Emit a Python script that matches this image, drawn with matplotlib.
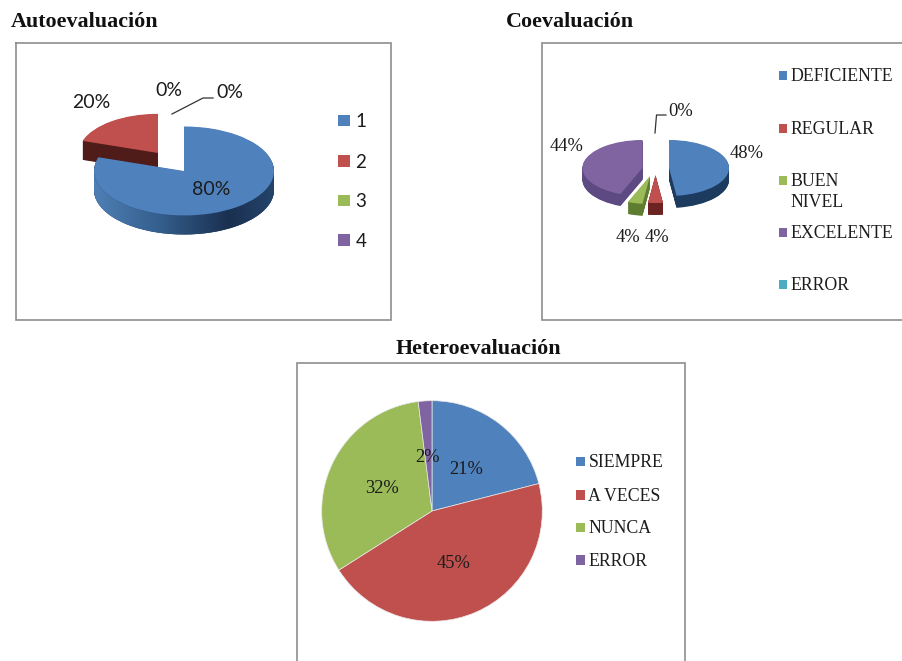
import numpy as np
import matplotlib
matplotlib.use("Agg")
import matplotlib.pyplot as plt
from matplotlib.patches import Wedge, Polygon, Rectangle
from matplotlib.colors import LinearSegmentedColormap

# ---- data ----
auto_values = [80, 20, 0, 0]
auto_categories = ["1", "2", "3", "4"]
co_values = [48, 4, 4, 44, 0]
co_categories = ["DEFICIENTE", "REGULAR", "BUEN\nNIVEL", "EXCELENTE", "ERROR"]
hetero_values = [21, 45, 32, 2]
hetero_categories = ["SIEMPRE", "A VECES", "NUNCA", "ERROR"]

# ---- style ----
W, H = 903, 661
BLUE, RED, GREEN, PURPLE, TEAL = "#4F81BD", "#C0504D", "#9BBB59", "#8064A2", "#4BACC6"
palette = [BLUE, RED, GREEN, PURPLE, TEAL]
sides = ["#1D3A5F", "#6B2422", "#5F7D30", "#5E4A82", "#2F7F95"]
TEXT = "#1c1c1c"
SERIF = "Liberation Serif"
SANS = "Lato"
DY = 1.2  # vertical nudge for text baseline centring

fig = plt.figure(figsize=(W / 100, H / 100), dpi=100, facecolor="white")


def pie_axes(cx, cy, rx, ry):
    ax = fig.add_axes([0, 0, 1, 1])
    ax.patch.set_alpha(0)
    return ax, (-cx / rx, (W - cx) / rx), ((cy - H) / ry, cy / ry)


def finish(ax, xl, yl):
    ax.set_aspect("auto")
    ax.set_xlim(*xl)
    ax.set_ylim(*yl)
    ax.axis("off")


def pie3d(values, cx, cy, rx, ry, depth, shifts, scales, order, sidecols, grad=None):
    ax, xl, yl = pie_axes(cx, cy, rx, ry)
    wedges, _ = ax.pie(values, colors=palette[:len(values)], startangle=90,
                       counterclock=False, radius=1,
                       wedgeprops=dict(linewidth=0))
    for i, w in enumerate(wedges):
        if values[i] == 0:
            w.set_visible(False)
            continue
        z = 2 + 2 * order[i]
        x0, y0 = shifts[i][0] / rx, -shifts[i][1] / ry
        r = scales[i]
        w.set_center((x0, y0))
        w.set_radius(r)
        w.set_zorder(z + 1)
        for k in np.arange(depth, 0, -0.5):
            ax.add_patch(Wedge((x0, y0 - k / ry), r, w.theta1, w.theta2,
                               fc=sidecols[i], ec="none", zorder=z))
        if grad is not None and i == grad[0]:
            t = np.radians(np.linspace(w.theta1, w.theta2, 400))
            t = t[np.sin(t) <= 0.02]
            px, py = x0 + r * np.cos(t), y0 + r * np.sin(t)
            poly = np.column_stack([np.r_[px, px[::-1]],
                                    np.r_[py, (py - depth / ry)[::-1]]])
            cmap = LinearSegmentedColormap.from_list("side", grad[1])
            im = ax.imshow(np.linspace(0, 1, 256)[None, :], cmap=cmap, aspect="auto",
                           extent=(x0 - r, x0 + r, y0 - r - 1, y0 + r), zorder=z + 0.5)
            clip = Polygon(poly, closed=True, transform=ax.transData, fc="none", ec="none")
            ax.add_patch(clip)
            im.set_clip_path(clip)
    finish(ax, xl, yl)


# Autoevaluacion
pie3d(auto_values, 184, 171, 90, 44.5, 19,
      shifts=[(0, 0), (-26, -18), (0, 0), (0, 0)],
      scales=[1, 0.88, 1, 1], order=[1, 0, 0, 0],
      sidecols=["#1D3A5F", "#4F1C1A", sides[2], sides[3]],
      grad=(0, [(0, "#4F7FB5"), (0.35, "#35608F"), (0.75, "#1A3050"), (1, "#24446A")]))

# Coevaluacion
pie3d(co_values, 655, 168, 60, 28, 12,
      shifts=[(14, 0), (0.5, 7), (-5, 8), (-12.5, 0), (0, 0)],
      scales=[1, 1, 1, 1, 1], order=[0, 0, 0, 0, 0], sidecols=sides)

# Heteroevaluacion
ax3, xl3, yl3 = pie_axes(432, 511, 110.3, 110.3)
ax3.pie(hetero_values, colors=palette[:4], startangle=90, counterclock=False, radius=1,
        wedgeprops=dict(linewidth=0.5, edgecolor="#e8e8e8"))
finish(ax3, xl3, yl3)

# ---- overlay in pixel coordinates ----
ov = fig.add_axes([0, 0, 1, 1], zorder=10)
ov.patch.set_alpha(0)
ov.set_xlim(0, W)
ov.set_ylim(H, 0)
ov.axis("off")

FRAME = dict(color="#8E8E8E", lw=1.2, solid_joinstyle="miter", clip_on=True)
ov.plot([15.7, 390.7, 390.7, 15.7, 15.7], [42.5, 42.5, 320, 320, 42.5], **FRAME)
ov.plot([910, 542.5, 542.5, 910], [42.5, 42.5, 319.5, 319.5], **FRAME)
ov.plot([297.5, 297.5, 685.5, 685.5], [670, 362.5, 362.5, 670], **FRAME)

# titles
tk = dict(family=SERIF, weight="bold", color="#111111", va="center", fontsize=15.8)
ov.text(11, 20.5 + DY, "Autoevaluación", ha="left", **tk)
ov.text(506, 20.5 + DY, "Coevaluación", ha="left", **tk)
ov.text(478.5, 348 + DY, "Heteroevaluación", ha="center", **tk)


def legend(cats, xs, ys, size, xt, family, fs):
    for i, (c, y) in enumerate(zip(cats, ys)):
        ov.add_patch(Rectangle((xs, y - size / 2), size, size, fc=palette[i], ec="none"))
        lines = c.split("\n")
        for j, line in enumerate(lines):
            ov.text(xt, y + DY + j * 21, line, family=family, fontsize=fs, color=TEXT,
                    ha="left", va="center")


legend(auto_categories, 338.5, [120.7, 161, 200.7, 240], 11.5, 355.5, SANS, 13.5)
legend(co_categories, 779, [75.7, 128.3, 180.3, 232.3, 284.7], 8.5, 790.7, SERIF, 12.8)
legend(hetero_categories, 576, [461.7, 495, 527.7, 560], 9.3, 588.5, SERIF, 12.8)


def labels(vals, pos, family, fs):
    for v, (x, y) in zip(vals, pos):
        ov.text(x, y + DY, f"{v}%", family=family, fontsize=fs, color=TEXT, ha="center", va="center")


labels(auto_values, [(211, 188), (91, 101), (230, 91), (169, 89)], SANS, 14)
labels(co_values, [(747, 152), (657, 236), (628, 236), (567, 145), (681, 110)], SERIF, 13.3)
labels(hetero_values, [(465.7, 468), (454, 562), (381.7, 487), (428, 456.5)], SERIF, 13.3)

# leader lines
ov.plot([172, 203, 213], [114, 98, 98], color="#333333", lw=0.9)
ov.plot([655, 656.5, 666], [133, 115, 115], color="#333333", lw=0.9)

fig.savefig("out.png", dpi=100, facecolor="white")
